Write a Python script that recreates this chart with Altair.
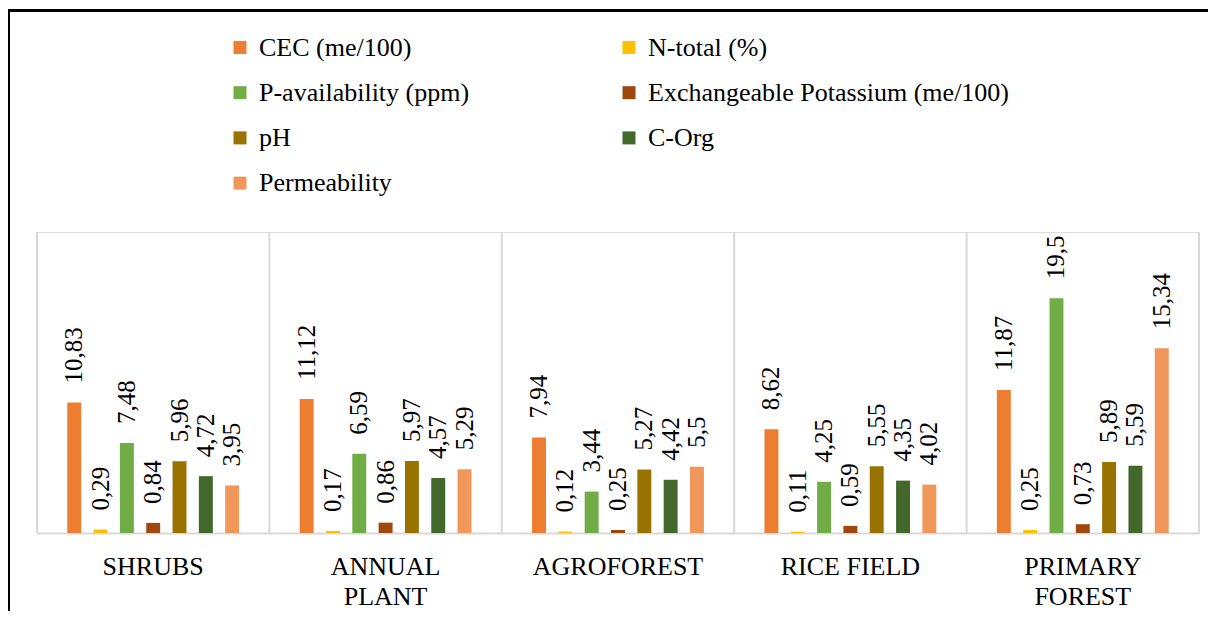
import altair as alt
import pandas as pd

categories = ["SHRUBS", "ANNUAL PLANT", "AGROFOREST", "RICE FIELD", "PRIMARY FOREST"]
series = ["CEC (me/100)", "N-total (%)", "P-availability (ppm)",
          "Exchangeable Potassium (me/100)", "pH", "C-Org", "Permeability"]
cec = [10.83, 11.12, 7.94, 8.62, 11.87]
n_total = [0.29, 0.17, 0.12, 0.11, 0.25]
p_avail = [7.48, 6.59, 3.44, 4.25, 19.5]
exch_k = [0.84, 0.86, 0.25, 0.59, 0.73]
ph = [5.96, 5.97, 5.27, 5.55, 5.89]
c_org = [4.72, 4.57, 4.42, 4.35, 5.59]
permeability = [3.95, 5.29, 5.5, 4.02, 15.34]
colors = ["#ED7D31", "#FFC000", "#70AD47", "#9E480E", "#997300", "#43682B", "#F1975A"]

values_by_series = [cec, n_total, p_avail, exch_k, ph, c_org, permeability]
rows = []
for s, vals in zip(series, values_by_series):
    for c, v in zip(categories, vals):
        rows.append({"category": c, "series": s, "value": v})
df = pd.DataFrame(rows)
cat_df = pd.DataFrame({"category": categories})

W, H = 1162, 301
FONT = "Liberation Serif"

x_enc = alt.X(
    "category:N", sort=categories,
    scale=alt.Scale(paddingInner=0, paddingOuter=0),
    axis=alt.Axis(
        title=None, labelFont=FONT, labelFontSize=26, labelColor="black",
        labelAngle=0, labelAlign="center", labelBaseline="top",
        domainColor="#d9d9d9", domainWidth=2, ticks=False,
        tickSize=0, labelPadding=20, labelLineHeight=30, grid=False,
        labelExpr="datum.label == 'ANNUAL PLANT' ? ['ANNUAL', 'PLANT'] : "
                  "datum.label == 'PRIMARY FOREST' ? ['PRIMARY', 'FOREST'] : datum.label",
    ),
)
# empty slots at both ends of each group give the gap around the bars
offset_domain = [" "] + series + ["  "]
xoff = alt.XOffset("series:N",
                   scale=alt.Scale(domain=offset_domain, paddingInner=0.47, paddingOuter=0.15))
y_enc = alt.Y("value:Q", scale=alt.Scale(domain=[0, 25]), axis=None)

base = alt.Chart(df)

bars = base.mark_bar().encode(
    x=x_enc, xOffset=xoff, y=y_enc,
    color=alt.Color(
        "series:N", sort=series,
        scale=alt.Scale(domain=series, range=colors),
        legend=alt.Legend(
            title=None, orient="none", legendX=190, legendY=-197.5,
            direction="horizontal", columns=2, symbolType="square", symbolSize=169,
            symbolStrokeWidth=0, labelFont=FONT, labelFontSize=26,
            labelColor="black", labelOffset=6, rowPadding=19.2, columnPadding=146,
            labelLimit=0, padding=0,
        ),
    ),
)

labels = base.transform_calculate(
    label="replace(toString(datum.value), '.', ',')"
).mark_text(
    angle=270, align="left", baseline="middle", dx=19,
    font=FONT, fontSize=25, color="black",
).encode(x=x_enc, xOffset=xoff, y=y_enc, text="label:N")

grid = alt.Chart(cat_df).mark_rule(color="#d9d9d9", strokeWidth=2).encode(
    x=alt.X("category:N", sort=categories, bandPosition=0),
    y=alt.value(0), y2=alt.value(H),
)
grid_right = alt.Chart(cat_df).mark_rule(color="#d9d9d9", strokeWidth=2).encode(
    x=alt.value(W), y=alt.value(0), y2=alt.value(H),
)

frame_top = alt.Chart(cat_df).mark_rule(color="black", strokeWidth=2.7).encode(
    x=alt.value(-29), x2=alt.value(W + 9), y=alt.value(-221.7),
)
frame_left = alt.Chart(cat_df).mark_rule(color="black", strokeWidth=2.7).encode(
    x=alt.value(-28.5), y=alt.value(-223), y2=alt.value(H + 80),
)

chart = alt.layer(bars, labels, grid, grid_right, frame_top, frame_left).properties(
    width=W, height=H,
    autosize=alt.AutoSizeParams(type="none"),
    padding={"left": 29, "top": 224, "right": 9, "bottom": 78},
).configure_view(stroke=None).configure(background="white")

chart.save("out.html", embed_options={"renderer": "svg", "actions": False})
